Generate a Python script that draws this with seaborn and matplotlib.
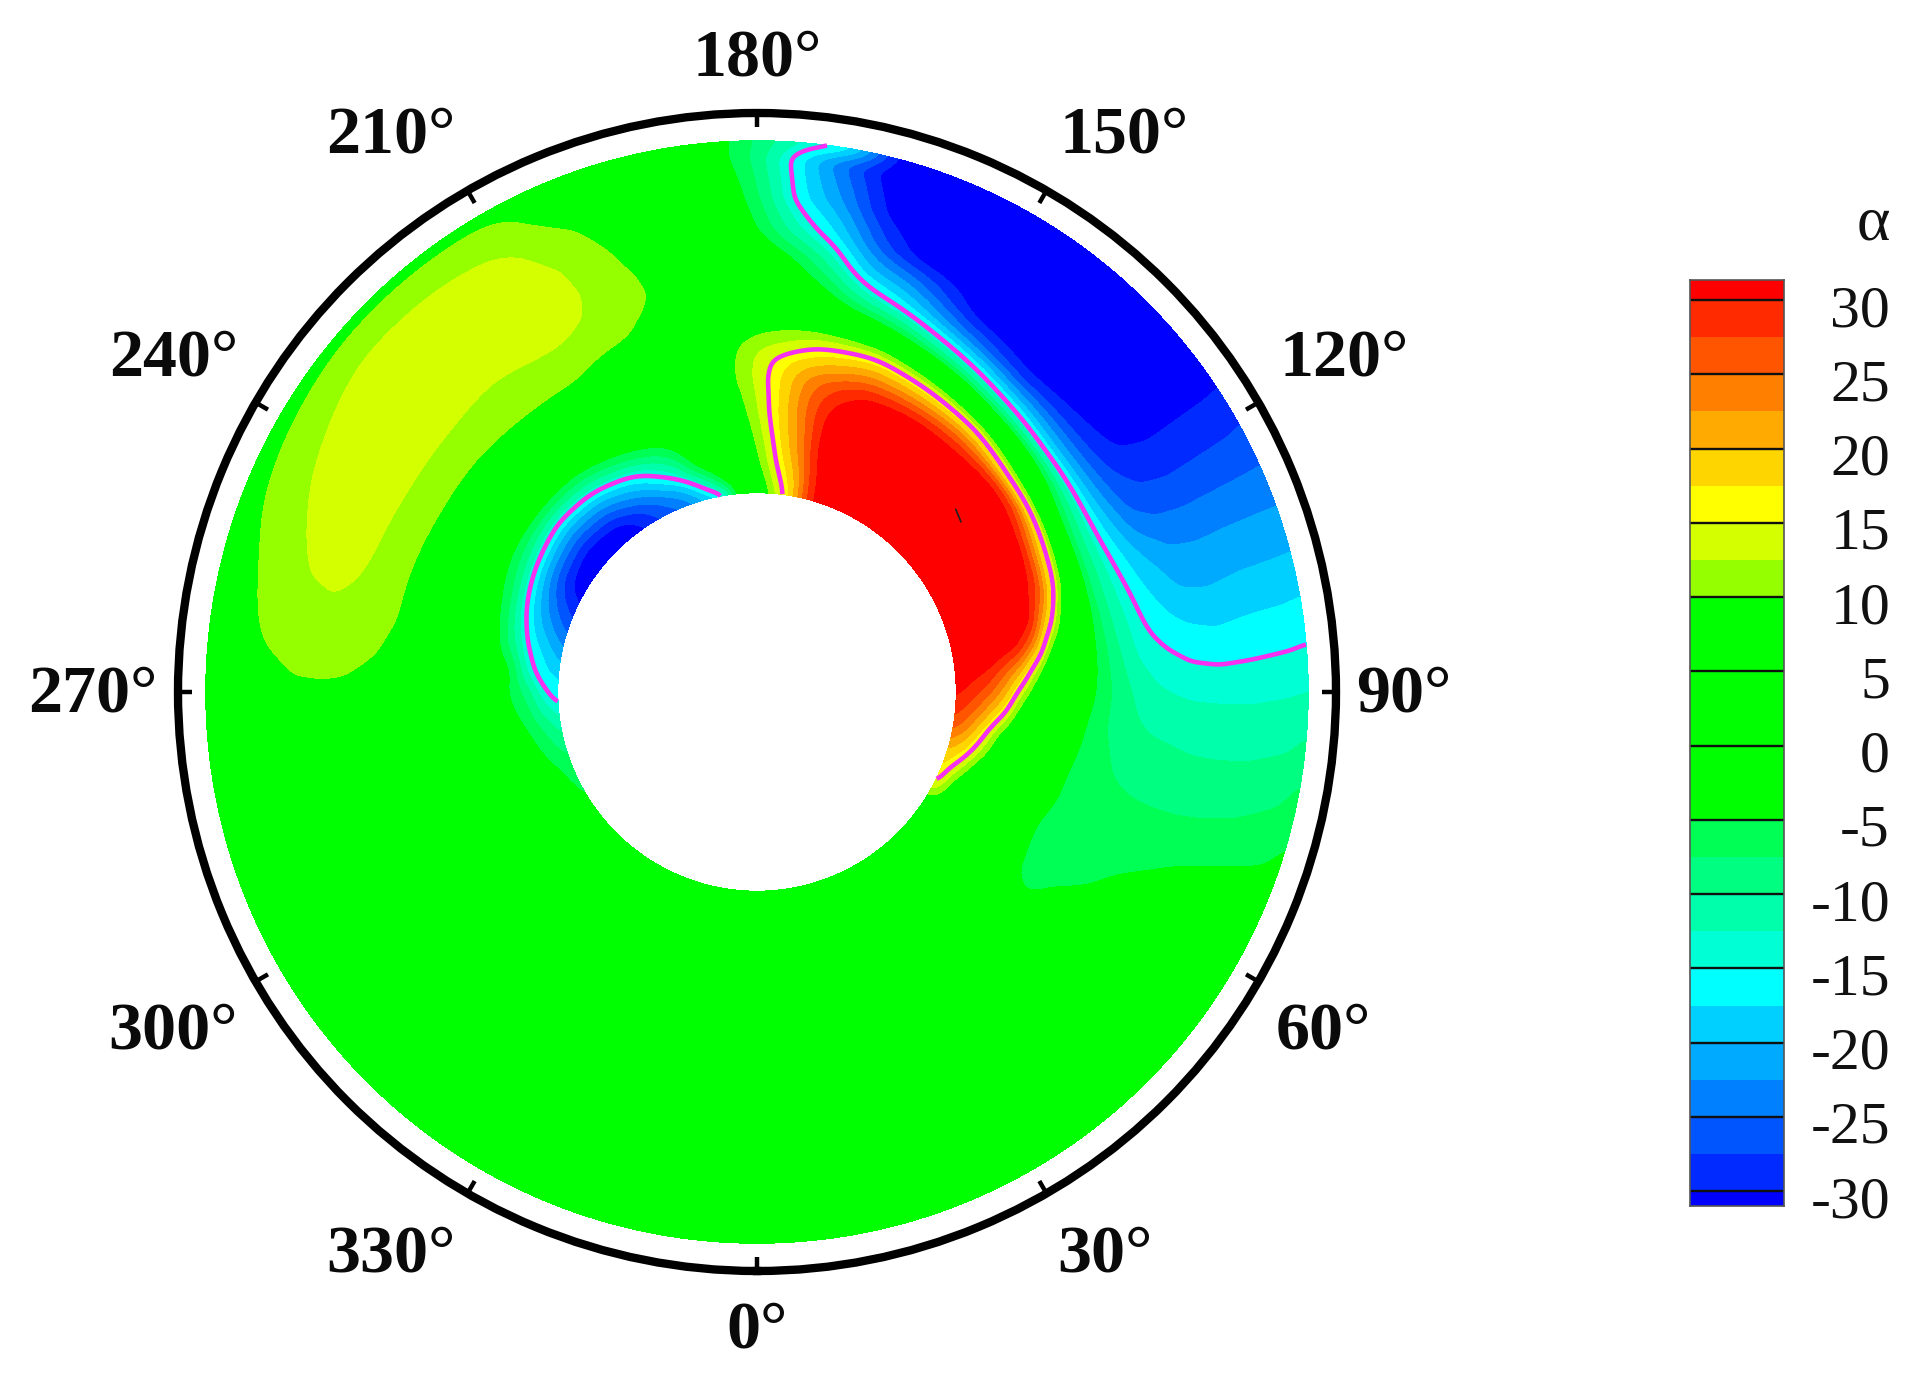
import numpy as np
import matplotlib
matplotlib.use("Agg")
import matplotlib.pyplot as plt
from matplotlib.colors import ListedColormap, BoundaryNorm
import seaborn as sns

# polar grid the field was read on
theta_deg = [0, 30, 45, 50, 55, 60, 65, 70, 75, 80, 85, 90, 95, 100, 105, 110, 115, 120, 125, 130,
             140, 150, 160, 165, 170, 175, 180, 185, 190, 195, 200, 210, 220, 230, 240, 250, 260,
             265, 270, 280, 290, 300, 320, 360]
radius = [.362, .39, .42, .45, .48, .51, .54, .57, .60, .63, .66, .69, .72, .75, .79, .84, .90, .97, 1.0]

alpha_rows = [
 [1, 1, 1, 1, 1, 1, 1, 1, 1, 1, 1, 1, 1, 1, 1, 1, 1, 1, 1],
 [1, 1, 1, 1, 1, 1, 1, 0, 0, 0, 0, 0, 1, 1, 1, 1, 1, 1, 1],
 [2, 2, 1, 1, 1, 0, 0, -1, -2, -2, -1, 0, 0, 1, 1, 1, 1, 1, 1],
 [3, 2, 1, 1, 0, -1, -2, -3, -4, -4, -3, -2, -1, 0, 0, 0, 0, 0, 0],
 [4, 3, 2, 1, 0, -1, -3, -5, -5.5, -5, -4, -3, -2, -1, 0, 0, 0, 0, 0],
 [12, 8, 5, 3, 1, -2, -4, -5.2, -5.8, -6, -6, -5.5, -4.5, -3, -2, -1, 0, 0, 0],
 [17, 9, 4, 2, 0, -2, -4, -5.5, -6, -6.2, -6.3, -6.2, -6, -5.7, -4.8, -3.5, -2, -1, -1],
 [18, 14, 7, 3, 1, -1, -3, -4.8, -5.5, -6, -6.3, -6.5, -6.5, -6.5, -6.5, -6.2, -5.7, -4.8, -4],
 [21, 18, 12, 6, 3, 0, -3, -4.5, -6, -6.8, -7.3, -7.6, -7.8, -7.9, -7.9, -7.8, -7.4, -6.5, -5.5],
 [26, 22, 15.5, 8, 4, 1, -1, -3.5, -5.5, -6.8, -7.8, -8.3, -8.8, -9, -9.5, -9.5, -9.3, -8.5, -7.3],
 [28.5, 26, 21, 15.5, 7, 3, .5, -2.5, -5, -7.3, -8.7, -9.8, -10.5, -10.8, -11, -11.2, -11.2, -10.8, -10],
 [30.5, 29, 26, 21, 13, 6, 3, 0, -3.5, -6.5, -8.5, -10.5, -12, -12.5, -13, -13, -13, -12.7, -12.5],
 [32, 31, 30, 26, 21, 12, 4, 1.5, -2.5, -6.5, -9.5, -12.5, -13.5, -14.5, -15.5, -16, -15.7, -15.3, -15],
 [33, 33, 33, 32.5, 31, 24, 11, 5, -2, -6.5, -10.5, -13, -15.5, -17, -18, -18.5, -18, -17.8, -17.5],
 [33, 33, 33, 33, 33, 32, 21, 9, 1, -7, -11, -14, -17, -18.5, -20.7, -21, -20.5, -20.3, -20.2],
 [33, 33, 33, 33, 33, 32, 28, 16, 4, -7, -11, -15.5, -18.5, -20.7, -22.5, -22.8, -22.7, -22.6, -22.6],
 [33, 33, 33, 33, 33, 33, 30, 19, 7, -6.5, -11.5, -17, -21, -24.7, -25.8, -26, -25.8, -25.6, -25.5],
 [33, 33, 33, 33, 33, 33, 32, 23, 10, -5, -10.5, -18, -23, -26.5, -28.2, -28.8, -28.6, -28.4, -28],
 [33, 33, 33, 33, 33, 33, 33, 28, 13, -1, -9, -18, -24, -28, -30.5, -31, -31, -31, -31],
 [33, 33, 33, 33, 33, 33, 33, 30, 15, 3, -7, -18, -24, -28.5, -31.5, -33, -33, -33, -33],
 [33, 33, 33, 33, 33, 33, 33, 29.5, 22, 10.5, -3, -13.5, -22, -29, -33, -33, -33, -33, -33],
 [33, 33, 33, 33, 33, 33, 33, 30.5, 23, 15, 4, -7.5, -16, -24, -31, -33, -33, -33, -33],
 [33, 33, 33, 33, 33, 33, 32, 30, 24, 18, 10, -2, -9, -16, -22, -31, -33, -33, -33],
 [29, 30, 31, 32, 32, 31.5, 30, 27, 22, 16.5, 10, 0, -7, -13, -20, -26, -31, -33, -33],
 [18, 19, 21, 23, 24, 25, 25, 24, 20, 15.5, 10.5, 3, -2.5, -6, -11, -17, -22, -26, -15],
 [12, 14, 15.5, 16.5, 17.5, 18, 18, 18, 17, 13, 10, 5, 1, -2, -5, -12, -17, -18, -13],
 [5, 7, 9, 10, 11, 12, 12.5, 13, 13, 12, 9, 5, 3, 1, -1, -4.5, -6.5, -8, -8],
 [-3, 0, 3, 5, 6, 7, 8, 9, 9, 8.5, 6, 4, 3, 2, 1, 0, -1, -3, -3],
 [-17, -6, -1, 1, 3, 4, 5, 5, 5, 5, 5, 5, 6, 6, 6, 4, 2, 1, 1],
 [-20, -14, -5, -2, 0, 2, 3, 4, 5, 6, 7, 8, 9.5, 10.2, 9.5, 8, 6, 4, 2],
 [-24, -20, -13, -8, -4, -1, 2, 3, 4, 5, 8, 10.5, 11, 11.5, 11.5, 11, 9.5, 6, 4],
 [-28, -26, -21, -15.5, -8, -3, 1, 3, 6, 8.5, 10.5, 11.5, 12.5, 13.5, 14, 14, 13, 11, 8],
 [-33, -31, -26, -20, -12, -5.5, -1, 2, 5, 8, 10.5, 11.5, 12, 12.8, 13.5, 14, 13.8, 11, 8.5],
 [-33, -32, -27, -21, -13, -5.5, -1, 2, 5, 8, 10, 11.5, 12.2, 13, 13.8, 14, 14, 11, 8.5],
 [-32, -30, -25, -18, -10, -5, -1, 2, 5, 8, 10, 11.5, 12.2, 13, 13.6, 13.6, 12.8, 10.3, 8],
 [-27, -24, -20, -14, -6.5, -3, 0, 2, 5, 8, 9.8, 11, 12, 12.8, 13.2, 13, 12, 9.5, 8],
 [-21, -18, -15, -9, -4, -2, 0, 2, 4, 7, 9.8, 11, 11.5, 12, 12.2, 12, 11, 7.5, 6],
 [-18, -17, -13, -4, -2, 0, 1, 2, 3, 5, 7, 9.8, 10.5, 11, 11, 11, 9.8, 7, 5],
 [-17, -14, -8, -5.2, -3, -1, 1, 2, 3, 4, 6, 7.5, 8.5, 9.2, 9.5, 9.3, 8, 6, 4],
 [-11, -8, -5, -3, -1, 0, 1, 1, 2, 3, 3, 4, 5, 6, 6, 5, 4, 3, 2],
 [-7, -5, -3, -1, 0, 0, 0, 1, 1, 1, 2, 2, 3, 3, 3, 3, 2, 2, 1],
 [-5.5, -3, -1, 0, 0, 0, 0, 0, 1, 1, 1, 1, 1, 1, 1, 1, 1, 1, 1],
 [0, 0, 0, 0, 0, 0, 0, 0, 1, 1, 1, 1, 1, 1, 1, 1, 1, 1, 1],
 [1, 1, 1, 1, 1, 1, 1, 1, 1, 1, 1, 1, 1, 1, 1, 1, 1, 1, 1],
]

# colour bands
level_bounds = [-60, -30, -27.5, -25, -22.5, -20, -17.5, -15, -12.5, -10, -7.5, -5, 0, 5, 10,
                12.5, 15, 17.5, 20, 22.5, 25, 27.5, 30, 60]
band_colors = ["#0000ff", "#002aff", "#0055ff", "#0080ff", "#00aaff", "#00d0ff", "#00ffff",
               "#00ffd5", "#00ffaa", "#00ff80", "#00ff55", "#00ff00", "#00ff00", "#00ff00",
               "#95ff00", "#d4ff00", "#ffff00", "#ffd500", "#ffaa00", "#ff8000", "#ff5500",
               "#ff2a00", "#ff0000"]
key_levels = [-15, 15]
cbar_ticks = [30, 25, 20, 15, 10, 5, 0, -5, -10, -15, -20, -25, -30]
cbar_cells = [31.25, 28.75, 26.25, 23.75, 21.25, 18.75, 16.25, 13.75, 11.25, 8.75, 6.25, 3.75, 1.25,
              -1.25, -3.75, -6.25, -8.75, -11.25, -13.75, -16.25, -18.75, -21.25, -23.75, -26.25,
              -28.75, -31.25]
tick_deg = [0, 30, 60, 90, 120, 150, 180, 210, 240, 270, 300, 330]
label_theta = [0, 31.9, 59.3, 90, 119.8, 146.7, 180, 213.2, 240, 270, 300, 326.8]
label_rho = [1.154, 1.196, 1.196, 1.174, 1.229, 1.214, 1.155, 1.213, 1.223, 1.205, 1.223, 1.213]
speck_theta = [132.6, 129.8]
speck_rho = [.49, .482]

sns.set_theme(style="white")
plt.rcParams["font.family"] = ["Liberation Serif", "DejaVu Serif"]

W, H = 1924, 1382
fig = plt.figure(figsize=(W / 100, H / 100), dpi=100, facecolor="white")


def px_axes(left, top, right, bottom, **kw):
    return fig.add_axes([left / W, 1 - bottom / H, (right - left) / W, (bottom - top) / H], **kw)


def render_field(rows, th_axis, r_axis, sig_th=2.0, sig_r=.009):
    """Resample the table on a fine polar mesh and soften the reading steps for drawing."""
    th_f = np.arange(0, 360.01, .5)
    r_f = np.linspace(r_axis[0], r_axis[-1], 241)
    z = np.array(rows, dtype=float)
    z = np.array([np.interp(th_f, th_axis, z[:, j]) for j in range(z.shape[1])]).T
    z = np.array([np.interp(r_f, r_axis, z[i]) for i in range(z.shape[0])])
    n = int(4 * sig_th / .5)
    k = np.exp(-.5 * (np.arange(-n, n + 1) * .5 / sig_th) ** 2)
    k /= k.sum()
    body = z[:-1]
    wrapped = np.vstack([body[-n:], body, body[:n]])
    body = np.array([np.convolve(wrapped[:, j], k, mode="valid") for j in range(z.shape[1])]).T
    z = np.vstack([body, body[:1]])
    dr = r_f[1] - r_f[0]
    m = int(4 * sig_r / dr)
    k = np.exp(-.5 * (np.arange(-m, m + 1) * dr / sig_r) ** 2)
    k /= k.sum()
    z = np.array([np.convolve(np.pad(row, m, mode="edge"), k, mode="valid") for row in z])
    return th_f, r_f, z


cx, cy, ring = 757, 692, 579
ax = px_axes(cx - ring, cy - ring, cx + ring, cy + ring, projection="polar")
ax.set_theta_zero_location("S")
ax.set_theta_direction(1)
ax.set_rlim(0, ring / 551)
ax.set_facecolor("white")

th_f, r_f, z_f = render_field(alpha_rows, theta_deg, radius)
T, R = np.meshgrid(np.radians(th_f), r_f, indexing="ij")
cf = ax.contourf(T, R, z_f, levels=level_bounds, colors=band_colors)
cf.set_edgecolor("face")
cf.set_linewidth(0.4)
ax.contour(T, R, z_f, levels=key_levels, colors="#f530f0", linewidths=3.3, linestyles="solid")
ax.plot(np.radians(speck_theta), speck_rho, color="#202020", lw=1.2)

ax.set_yticks([])
ax.grid(False)
ax.set_xticks(np.radians(tick_deg))
ax.set_xticklabels([])
ax.tick_params(axis="x", length=0)
ax.spines["polar"].set_linewidth(6)
ax.spines["polar"].set_color("black")
for deg in tick_deg:
    ax.plot([np.radians(deg)] * 2, [ring / 551 - .026, ring / 551], color="black", lw=3.2,
            solid_capstyle="butt")
ax.set_rlim(0, ring / 551)

for deg, th, rho in zip(tick_deg, label_theta, label_rho):
    ax.annotate(f"{deg}°", xy=(np.radians(th), rho), xycoords="data", xytext=(0, -2.5),
                textcoords="offset points", ha="center", va="center", fontsize=49,
                fontweight="bold", color="#0a0a0a", annotation_clip=False)

# colour bar drawn by seaborn
cax = px_axes(1690, 280, 1784, 1206)
norm = BoundaryNorm(level_bounds, len(band_colors))
sns.heatmap(np.array(cbar_cells).reshape(-1, 1), ax=cax, cmap=ListedColormap(band_colors), norm=norm,
            cbar=False, xticklabels=False, yticklabels=False, linewidths=0)
to_row = lambda v: (32.5 - v) / 2.5
cax.set_ylim(to_row(-31.0), to_row(31.35))
for v in cbar_ticks:
    cax.hlines(to_row(v), 0, 1, color="#101010", linewidth=1.7)
    cax.annotate(str(v), xy=(1, to_row(v)), xycoords=("axes fraction", "data"),
                 xytext=(106 * .72, -12 * .72), textcoords="offset points", ha="right", va="center",
                 fontsize=43, color="#111111")
for s in cax.spines.values():
    s.set_visible(True)
    s.set_linewidth(1.2)
    s.set_color("#555555")
cax.annotate("α", xy=(1, 1), xycoords="axes fraction", xytext=(106 * .72, 55 * .72),
             textcoords="offset points", ha="right", va="center", fontsize=46, color="#111111")

fig.savefig("out.png", dpi=100, facecolor="white")
